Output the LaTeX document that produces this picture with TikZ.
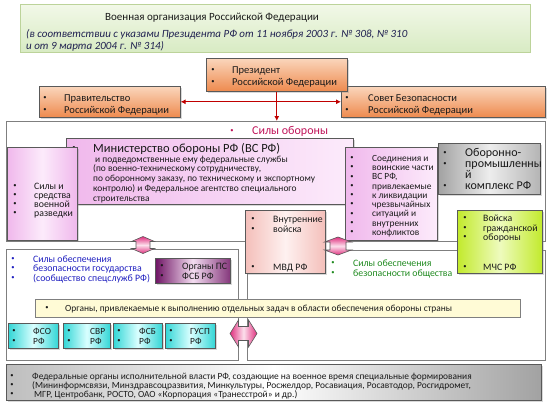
\documentclass[tikz,border=0pt]{standalone}
\usepackage{fontspec}
\setmainfont{Carlito}
\usetikzlibrary{shadows,arrows.meta}
\definecolor{frameG}{HTML}{7F7F7F}
\definecolor{boxG}{HTML}{595959}
\definecolor{tgT}{HTML}{F2F8E8}
\definecolor{tgB}{HTML}{D8EBC3}
\definecolor{tgD}{HTML}{BCD39A}
\definecolor{orT}{HTML}{FAD6BC}
\definecolor{orB}{HTML}{EE8A4E}
\definecolor{redA}{HTML}{C00000}
\definecolor{crim}{HTML}{C0145A}
\definecolor{pinkA}{HTML}{F0B8EC}
\definecolor{pinkL}{HTML}{FCEBFB}
\definecolor{greyA}{HTML}{A2A2A2}
\definecolor{greyL}{HTML}{EDEDED}
\definecolor{limeA}{HTML}{C2EA2C}
\definecolor{limeL}{HTML}{EEFBBE}
\definecolor{salA}{HTML}{F4BFBA}
\definecolor{salL}{HTML}{FEF1F0}
\definecolor{purA}{HTML}{6E1464}
\definecolor{purL}{HTML}{F4DDF1}
\definecolor{yelF}{HTML}{FFFBD6}
\definecolor{cyA}{HTML}{33D6D6}
\definecolor{cyL}{HTML}{DAFFFF}
\definecolor{daA}{HTML}{E0307F}
\definecolor{daL}{HTML}{FCE0EC}
\definecolor{blueT}{HTML}{1F1FC0}
\definecolor{greenT}{HTML}{1F8A1F}
\definecolor{navyT}{HTML}{1F2050}
\definecolor{txtD}{HTML}{1A1A1A}
\newcommand\bx[6]{\node[#6,anchor=north west,minimum width={(#4)-(#2)},minimum height={(#5)-(#3)}] (#1) at (#2,#3) {};}
\newcommand\bl[7]{\node[txt,font=\fontsize{#6}{#6}\selectfont,text=#7] (#1) at (#3,{#4+0.33*#6}) {#5};\node[bul,text=#7] (#1b) at (#2,#4) {\textbullet};}
\newcommand\tl[6]{\node[txt,font=\fontsize{#5}{#5}\selectfont,text=#6] (#1) at (#2,{#3+0.33*#5}) {#4};}
\begin{document}
\begin{tikzpicture}[x=1pt,y=-1pt,
  frame/.style={draw=frameG,fill=white,line width=0.7pt,inner sep=0},
  cbox/.style={draw=boxG,line width=0.6pt,inner sep=0,drop shadow={shadow xshift=1.2pt,shadow yshift=-1.2pt,opacity=0.3}},
  txt/.style={inner sep=0,anchor=base west},
  bul/.style={inner sep=0,anchor=center,font=\fontsize{6.5}{6.5}\selectfont},
  darr/.style={draw=boxG,line width=0.6pt,line join=miter},
  redc/.style={draw=redA,line width=1pt}]
\useasboundingbox (0,0) rectangle (550,410);
\fill[white] (0,0) rectangle (550,410);
% title
\bx{title}{20}{4}{530}{52}{draw=tgD,line width=0.6pt,inner sep=0,top color=tgT,bottom color=tgB}
\tl{t1}{105}{17}{Военная организация Российской Федерации}{11}{txtD}
\node[txt,font=\fontsize{11}{11}\selectfont\itshape,text=navyT] (t2) at (26,{34+3.6}) {(в соответствии с указами Президента РФ от 11 ноября 2003 г. № 308, № 310};
\node[txt,font=\fontsize{11}{11}\selectfont\itshape,text=navyT] (t3) at (26,{46+3.6}) {и от 9 марта 2004 г. № 314)};
% frames
\bx{frameA}{6}{121}{545}{241}{frame}
\bx{frameB}{6}{249}{238}{360}{frame}
\bx{frameC}{247}{250}{545}{360}{frame}
% top boxes
\bx{gov}{39}{86}{180}{117}{cbox,top color=orT,bottom color=orB}
\bx{sec}{341}{86}{545}{117}{cbox,top color=orT,bottom color=orB}
\bx{pres}{206}{58}{347}{91}{cbox,top color=orT,bottom color=orB}
\bl{p1}{213}{232}{70}{Президент}{10.5}{txtD}
\bl{p2}{213}{232}{82}{Российской Федерации}{10.5}{txtD}
\bl{g1}{45}{64}{98}{Правительство}{10.5}{txtD}
\bl{g2}{45}{64}{110}{Российской Федерации}{10.5}{txtD}
\bl{s1}{347}{368}{98}{Совет Безопасности}{10.5}{txtD}
\bl{s2}{347}{368}{110}{Российской Федерации}{10.5}{txtD}
\draw[redc,{Latex[length=5pt,width=5pt]}-{Latex[length=5pt,width=5pt]}] (gov) -- (sec);
\draw[redc,-{Latex[length=5pt,width=5pt]}] (pres.south) -- (pres.south |- frameA.north);
% frame A content
\bl{so}{232}{252}{131}{Силы обороны}{12}{crim}
\bx{mino}{66}{138}{353}{204}{cbox,left color=pinkA,right color=pinkL}
\bl{m0}{74}{93}{148}{Министерство обороны РФ (ВС РФ)}{12.5}{txtD}
\tl{m1}{95}{159}{и подведомственные ему федеральные службы}{9.4}{txtD}
\tl{m2}{93}{168.5}{(по военно-техническому сотрудничеству,}{9.4}{txtD}
\tl{m3}{93}{178}{по оборонному заказу, по техническому и экспортному}{9.4}{txtD}
\tl{m4}{93}{188}{контролю) и Федеральное агентство специального}{9.4}{txtD}
\tl{m5}{93}{198}{строительства}{9.4}{txtD}
\bx{intel}{7}{147}{77}{240}{cbox,left color=pinkA,right color=pinkA,middle color=pinkL}
\bl{i1}{15}{34}{186}{Силы и}{9.8}{txtD}
\bl{i2}{15}{34}{195.5}{средства}{9.8}{txtD}
\bl{i3}{15}{34}{204.5}{военной}{9.8}{txtD}
\bl{i4}{15}{34}{213.5}{разведки}{9.8}{txtD}
\bx{soed}{345}{147}{437}{240}{cbox,left color=pinkA,right color=pinkL}
\bl{c1}{352}{372}{158}{Соединения и}{9.4}{txtD}
\bl{c2}{352}{372}{167.3}{воинские части}{9.4}{txtD}
\bl{c3}{352}{372}{176.6}{ВС РФ,}{9.4}{txtD}
\bl{c4}{352}{372}{185.9}{привлекаемые}{9.4}{txtD}
\bl{c5}{352}{372}{195.2}{к ликвидации}{9.4}{txtD}
\bl{c6}{352}{372}{204.5}{чрезвычайных}{9.4}{txtD}
\bl{c7}{352}{372}{213.8}{ситуаций и}{9.4}{txtD}
\bl{c8}{352}{372}{223.1}{внутренних}{9.4}{txtD}
\bl{c9}{352}{372}{232.4}{конфликтов}{9.4}{txtD}
\bx{opk}{438}{143}{540}{194}{cbox,left color=greyA,right color=greyA!80,middle color=greyL}
\bl{o1}{445}{465}{153}{Оборонно-}{12}{txtD}
\bl{o2}{445}{465}{164}{промышленны}{12}{txtD}
\tl{o3}{465}{175}{й}{12}{txtD}
\bl{o4}{445}{465}{186}{комплекс РФ}{12}{txtD}
\bx{mvd}{245}{210}{325}{273}{cbox,left color=salA,right color=salA,middle color=salL}
\bl{v1}{253}{273}{219}{Внутренние}{9.8}{txtD}
\bl{v2}{253}{273}{229}{войска}{9.8}{txtD}
\bl{v3}{253}{273}{267}{МВД РФ}{9.8}{txtD}
\bx{mchs}{457}{210}{542}{273}{cbox,left color=limeA,right color=limeA,middle color=limeL}
\bl{e1}{465}{483}{218}{Войска}{9.8}{txtD}
\bl{e2}{465}{483}{228}{гражданской}{9.8}{txtD}
\bl{e3}{465}{483}{237}{обороны}{9.8}{txtD}
\bl{e4}{465}{483}{267}{МЧС РФ}{9.8}{txtD}
% frame B content
\bl{b1}{13}{33}{259}{Силы обеспечения}{9.8}{blueT}
\bl{b2}{13}{33}{268.5}{безопасности государства}{9.8}{blueT}
\bl{b3}{13}{33}{278}{(сообщество спецслужб РФ)}{9.8}{blueT}
\bx{ps}{155}{258}{230}{283}{cbox,left color=purA,right color=purA!85,middle color=purL}
\bl{q1}{162}{182}{266}{Органы ПС}{9.8}{txtD}
\bl{q2}{162}{182}{276}{ФСБ РФ}{9.8}{txtD}
% frame C content
\bl{r1}{333}{353}{263}{Силы обеспечения}{9.8}{greenT}
\bl{r2}{333}{353}{273}{безопасности общества}{9.8}{greenT}
% yellow
\bx{yel}{35}{299}{520}{317}{draw=frameG,line width=0.6pt,inner sep=0,fill=yelF}
\bl{y1}{47}{65}{308}{Органы, привлекаемые к выполнению отдельных задач в области обеспечения обороны страны}{9.4}{txtD}
% cyan boxes
\bx{fso}{8}{323}{58}{348}{cbox,left color=cyA,right color=cyA,middle color=cyL}
\bx{svr}{63}{323}{110}{348}{cbox,left color=cyA,right color=cyA,middle color=cyL}
\bx{fsb}{113}{323}{162}{348}{cbox,left color=cyA,right color=cyA,middle color=cyL}
\bx{gusp}{165}{323}{215}{348}{cbox,left color=cyA,right color=cyA,middle color=cyL}
\bl{f1}{14}{33}{331}{ФСО}{9.4}{txtD}
\bl{f2}{14}{33}{341}{РФ}{9.4}{txtD}
\bl{f3}{69}{90}{331}{СВР}{9.4}{txtD}
\bl{f4}{69}{90}{341}{РФ}{9.4}{txtD}
\bl{f5}{119}{139}{331}{ФСБ}{9.4}{txtD}
\bl{f6}{119}{139}{341}{РФ}{9.4}{txtD}
\bl{f7}{171}{190}{331}{ГУСП}{9.4}{txtD}
\bl{f8}{171}{190}{341}{РФ}{9.4}{txtD}
% double arrows (drawn shapes)
\begin{scope}[shift={(143,245)}]
\path[darr,top color=daA,bottom color=daA,middle color=daL] (0,-8.5) -- (11.5,-3.5) -- (7,-3.5) -- (7,3.5) -- (11.5,3.5) -- (0,8.5) -- (-11.5,3.5) -- (-7,3.5) -- (-7,-3.5) -- (-11.5,-3.5) -- cycle;
\end{scope}
\begin{scope}[shift={(338,246)}]
\path[darr,top color=daA,bottom color=daA,middle color=daL] (0,-9) -- (13.5,-4) -- (8,-4) -- (8,4) -- (13.5,4) -- (0,9) -- (-13.5,4) -- (-8,4) -- (-8,-4) -- (-13.5,-4) -- cycle;
\end{scope}
\begin{scope}[shift={(243.5,333.5)}]
\path[darr,left color=daA,right color=daA,middle color=daL] (-13.5,0) -- (-5,-13.5) -- (-5,-7) -- (5,-7) -- (5,-13.5) -- (13.5,0) -- (5,13.5) -- (5,7) -- (-5,7) -- (-5,13.5) -- cycle;
\end{scope}
% bottom grey
\bx{fed}{6}{364}{541}{400}{cbox,left color=greyA!70,right color=greyA,middle color=white}
\bl{z1}{12}{32}{376}{Федеральные органы исполнительной власти РФ, создающие на военное время специальные формирования}{9.4}{txtD}
\bl{z2}{12}{32}{385}{(Мининформсвязи, Минздравсоцразвития, Минкультуры, Росжелдор, Росавиация, Росавтодор, Росгидромет,}{9.4}{txtD}
\bl{z3}{12}{34}{394}{МГР, Центробанк, РОСТО, ОАО «Корпорация «Транесстрой» и др.)}{9.4}{txtD}
\end{tikzpicture}
\end{document}
